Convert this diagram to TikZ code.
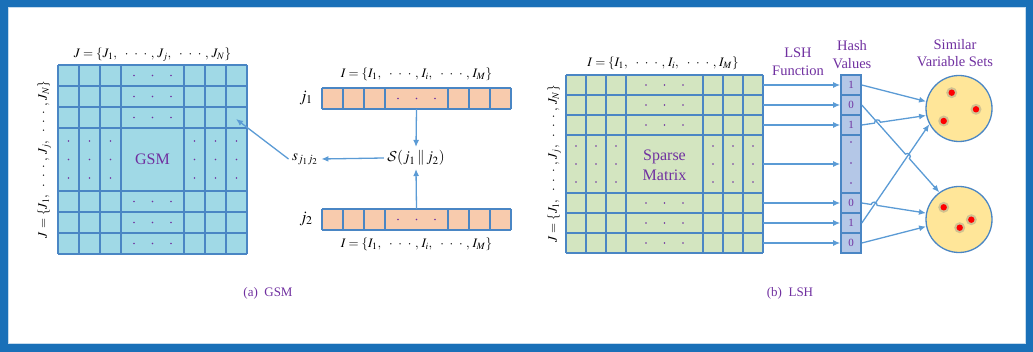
\documentclass[tikz,border=0pt]{standalone}
\usepackage{mathptmx}
\usepackage[no-math]{fontspec}
\setmainfont{Liberation Serif}
\usetikzlibrary{arrows.meta,calc,intersections}
\DeclareMathAlphabet{\mathcal}{OMS}{cmsy}{m}{n}

\definecolor{frameblue}{RGB}{26,112,184}
\definecolor{linkblue}{RGB}{91,155,213}
\definecolor{gridblue}{RGB}{74,134,196}
\definecolor{gsmcyan}{RGB}{160,217,230}
\definecolor{rowpeach}{RGB}{248,203,173}
\definecolor{sparsegreen}{RGB}{211,229,192}
\definecolor{hashlav}{RGB}{180,199,231}
\definecolor{setyellow}{RGB}{255,230,153}
\definecolor{labelpurple}{RGB}{112,48,160}

% widely spaced centre dots between two commas
\newcommand{\wdots}{\mkern9mu{\cdot}\mkern8mu{\cdot}\mkern8mu{\cdot}\mkern5mu}

\tikzset{
  gridline/.style={gridblue,line width=1.6pt},
  flow/.style={->,>={Latex[length=7pt,width=6pt]},linkblue,line width=1.3pt},
  dotmark/.style={labelpurple},
  setlabel/.style={text=labelpurple,font=\fontsize{14.5}{17.5}\selectfont,align=center},
  mathlabel/.style={font=\fontsize{13}{15}\selectfont},
  hashcell/.style={draw=gridblue,line width=1.6pt,fill=hashlav,minimum width=20pt,
    inner sep=0pt,text=labelpurple,font=\fontsize{11}{13}\selectfont},
  varset/.style={draw=gridblue,line width=1.3pt,fill=setyellow,circle,minimum size=66pt,inner sep=0pt},
  glow/.style={gray,opacity=0.35},
}

\begin{document}
\begin{tikzpicture}[x=1pt,y=-1pt]
\useasboundingbox (0,0) rectangle (1033,352);
\draw[frameblue,line width=7.5pt] (3.75,3.75) rectangle (1029.25,348.25);
\draw[frameblue!25,line width=1pt] (8,8) rectangle (1025,344);

% GSM matrix
\fill[gsmcyan] (58,65) rectangle (247,254);
\foreach \x in {58,79,100,121,184,205,226,247} \draw[gridline] (\x,65) -- (\x,254);
\foreach \y in {65,86,107,128,191,212,233,254} \draw[gridline] (58,\y) -- (247,\y);
\foreach \y in {75.5,96.5,117.5,201.5,222.5,243.5}
  \foreach \x in {134,152.5,171} \fill[dotmark] (\x,\y) circle (0.9);
\foreach \x in {68.5,89.5,110.5,194.5,215.5,236.5}
  \foreach \y in {141,159.5,178} \fill[dotmark] (\x,\y) circle (0.9);
\node[text=labelpurple,font=\fontsize{16}{19}\selectfont] (gsm) at (152.5,159.5) {GSM};
\node[mathlabel] (gsmtop) at (152.5,55) {$J=\{J_1,\wdots,\,J_j,\wdots,\,J_N\}$};
\node[mathlabel,rotate=90] (gsmside) at (44,159.5) {$J=\{J_1,\wdots,\,J_j,\wdots,\,J_N\}$};
\coordinate (gsmhit) at (236,119);

% the two variable rows
\foreach \t in {88,209} {
  \fill[rowpeach] (322,\t) rectangle (511,\t+21);
  \foreach \x in {322,343,364,385,448,469,490,511} \draw[gridline] (\x,\t) -- (\x,\t+21);
  \draw[gridline] (322,\t) -- (511,\t) (322,\t+21) -- (511,\t+21);
  \foreach \x in {398,416.5,435} \fill[dotmark] (\x,\t+10.5) circle (0.9);
}
\node[inner sep=0pt,minimum width=189pt,minimum height=21pt] (rowone) at (416.5,98.5) {};
\node[inner sep=0pt,minimum width=189pt,minimum height=21pt] (rowtwo) at (416.5,219.5) {};
\node[font=\fontsize{16}{18}\selectfont] (lblone) at (306,98) {$j_1$};
\node[font=\fontsize{16}{18}\selectfont] (lbltwo) at (306,219) {$j_2$};
\node[mathlabel] (itop) at (416.5,74) {$I=\{I_1,\wdots,\,I_i,\wdots,\,I_M\}$};
\node[mathlabel] (ibot) at (416.5,244) {$I=\{I_1,\wdots,\,I_i,\wdots,\,I_M\}$};
\node[font=\fontsize{15}{17}\selectfont] (simval) at (416,158) {$\mathcal{S}(j_1\,\|\,j_2)$};
\node[font=\fontsize{15}{17}\selectfont] (sval) at (305,159) {$s_{j_1j_2}$};
\draw[flow] (rowone.south) -- (simval.north);
\draw[flow] (rowtwo.north) -- (simval.south);
\draw[flow] (simval.west) -- (sval.east);
\draw[flow] (sval.west) -- (gsmhit);

% sparse matrix
\fill[sparsegreen] (566,75) rectangle (763,253);
\foreach \x in {566,586,606,626,703,723,743,763} \draw[gridline] (\x,75) -- (\x,253);
\foreach \y in {75,95,115,135,193,213,233,253} \draw[gridline] (566,\y) -- (763,\y);
\foreach \y in {85,105,125,203,223,243}
  \foreach \x in {646,664.5,683} \fill[dotmark] (\x,\y) circle (0.9);
\foreach \x in {576,596,616,713,733,753}
  \foreach \y in {146,164,182} \fill[dotmark] (\x,\y) circle (0.9);
\node[inner sep=0pt,minimum width=197pt,minimum height=178pt] (smat) at (664.5,164) {};
\node[text=labelpurple,align=center,font=\fontsize{16}{20}\selectfont] (sparse) at (664.5,165) {Sparse\\Matrix};
\node[mathlabel] (stop) at (663,63) {$I=\{I_1,\wdots,\,I_i,\wdots,\,I_M\}$};
\node[mathlabel,rotate=90] (sside) at (554,164) {$J=\{J_1,\wdots,\,J_j,\wdots,\,J_N\}$};

% hash values
\node[hashcell,minimum height=20pt] (h1) at (851,85) {1};
\node[hashcell,minimum height=20pt] (h2) at (851,105) {0};
\node[hashcell,minimum height=20pt] (h3) at (851,125) {1};
\node[hashcell,minimum height=58pt] (h4) at (851,164) {};
\node[hashcell,minimum height=20pt] (h5) at (851,203) {0};
\node[hashcell,minimum height=20pt] (h6) at (851,223) {1};
\node[hashcell,minimum height=20pt] (h7) at (851,243) {0};
\foreach \y in {142,163,183} \fill[dotmark] (851,\y) circle (0.9);
\foreach \i in {1,...,7} \draw[flow] (smat.east |- h\i) -- (h\i.west);

\node[setlabel] (lshfn) at (798,62) {LSH\\Function};
\node[setlabel] (hashval) at (852,54.5) {Hash\\Values};
\node[setlabel] (simsets) at (955,53) {Similar\\Variable Sets};

% similar variable sets
\node[varset] (setA) at (959,108.5) {};
\node[varset] (setB) at (959,219.5) {};
\foreach \p in {(951.7,92.7),(976,109.3),(943.7,121),(943.7,207.3),(971.3,219.7),(959.7,227.7)} {
  \fill[glow] \p circle (5.5);
  \fill[red] \p circle (3.2);
}

% hash to sets, with hops where lines cross
\path[name path=ltwo] (h2.east) -- (setB.126);
\path[name path=lthree] (h3.east) -- (setA.192);
\path[name path=lfive] (h5.east) -- (setB.169);
\path[name path=lsix] (h6.east) -- (setA.208);
\path[name intersections={of=ltwo and lthree,by=xa}];
\path[name intersections={of=lfive and lsix,by=xb}];
\path[name intersections={of=ltwo and lsix,by=xc}];
\draw[flow] (h1.east) -- (setA.168);
\draw[flow] (h2.east) -- ($(xc)!3pt!(h2.east)$) to[bend left=90,looseness=1.6] ($(xc)!3pt!(setB.126)$) -- (setB.126);
\draw[flow] (h3.east) -- ($(xa)!3pt!(h3.east)$) to[bend left=90,looseness=1.6] ($(xa)!3pt!(setA.192)$) -- (setA.192);
\draw[flow] (h5.east) -- ($(xb)!3pt!(h5.east)$) to[bend left=90,looseness=1.6] ($(xb)!3pt!(setB.169)$) -- (setB.169);
\draw[flow] (h6.east) -- (setA.208);
\draw[flow] (h7.east) -- (setB.192);

% captions
\node[text=labelpurple,font=\fontsize{13}{15}\selectfont] (capa) at (268,293) {(a)\ \ GSM};
\node[text=labelpurple,font=\fontsize{13}{15}\selectfont] (capb) at (790,293) {(b)\ \ LSH};
\end{tikzpicture}
\end{document}
